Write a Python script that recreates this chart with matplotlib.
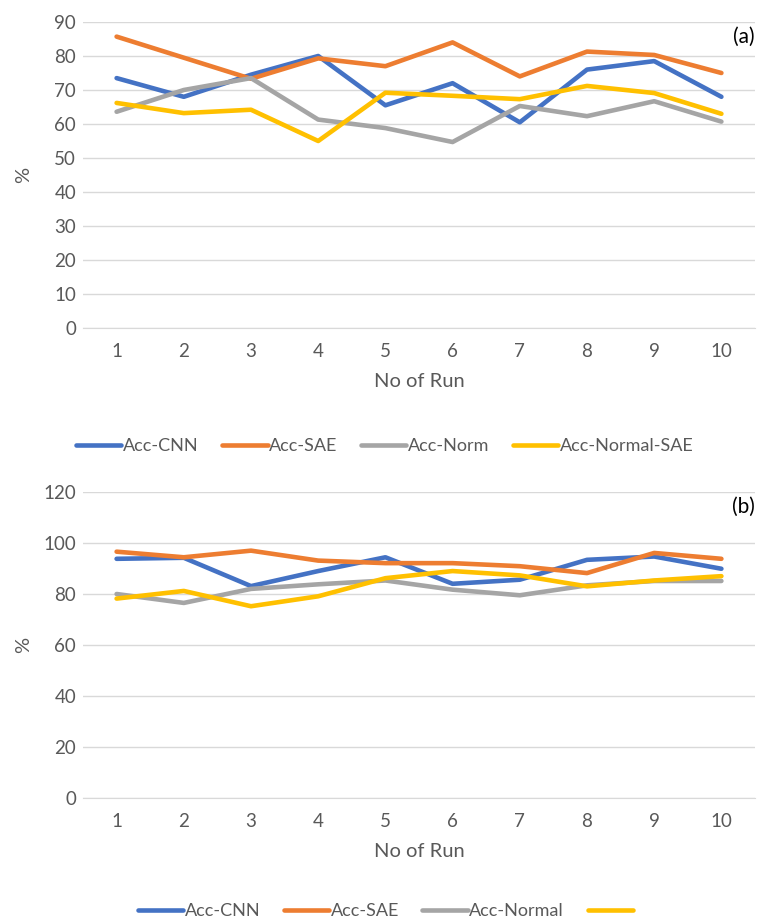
import matplotlib
matplotlib.use("Agg")
import matplotlib.pyplot as plt
from matplotlib.lines import Line2D

runs = [1, 2, 3, 4, 5, 6, 7, 8, 9, 10]

# Chart (a)
a_cnn = [73.5, 68, 74.5, 80, 65.5, 72, 60.5, 76, 78.5, 68]
a_sae = [85.7, 79.5, 73.3, 79.3, 77, 84, 74, 81.3, 80.3, 75]
a_norm = [63.6, 70, 73.5, 61.3, 58.8, 54.7, 65.3, 62.3, 66.7, 60.7]
a_norm_sae = [66.2, 63.2, 64.2, 55, 69.2, 68.3, 67.3, 71.2, 69.1, 63]
a_labels = ["Acc-CNN", "Acc-SAE", "Acc-Norm", "Acc-Normal-SAE"]

# Chart (b)
b_cnn = [93.8, 94.2, 83.1, 89, 94.4, 84, 85.6, 93.4, 94.7, 89.9]
b_sae = [96.6, 94.4, 97, 93.1, 92.1, 92.1, 90.9, 88.2, 96.1, 93.8]
b_norm = [80, 76.5, 82, 83.8, 85.3, 81.7, 79.5, 83.4, 85.1, 85.1]
b_norm_sae = [78.2, 81.2, 75.2, 79.1, 86.2, 89, 87.3, 83, 85.3, 87]
b_labels = ["Acc-CNN", "Acc-SAE", "Acc-Normal", ""]

colors = ["#4472C4", "#ED7D31", "#A5A5A5", "#FFC000"]
txt = "#595959"
plt.rcParams['font.family'] = ['Lato', 'DejaVu Sans']

fig = plt.figure(figsize=(7.58, 9.23), dpi=100)
W, H = 758, 923

def make_ax(top_px, bot_px, series, ymax, ystep, tag):
    ax = fig.add_axes([83 / W, 1 - bot_px / H, (755 - 83) / W, (bot_px - top_px) / H])
    for s, c in zip(series, colors):
        ax.plot(runs, s, color=c, lw=3.3, solid_capstyle='round', solid_joinstyle='round')
    ax.set_xlim(0.5, 10.5)
    ax.set_ylim(0, ymax)
    ax.set_yticks(range(0, ymax + 1, ystep))
    ax.set_xticks(runs)
    ax.grid(axis='y', color='#D9D9D9', lw=1)
    ax.set_axisbelow(True)
    for sp in ['top', 'right', 'left']:
        ax.spines[sp].set_visible(False)
    ax.spines['bottom'].set_color('#D9D9D9')
    ax.tick_params(axis='both', length=0, colors=txt, labelsize=13.5)
    ax.tick_params(axis='x', pad=11)
    ax.tick_params(axis='y', pad=5)
    ax.set_xlabel("No of Run", color=txt, fontsize=14.5, labelpad=9)
    ax.set_ylabel("%", color=txt, fontsize=14.5)
    ax.yaxis.set_label_coords((32 - 83) / 672, 0.5)
    ax.text(1.0, 0.985, tag, transform=ax.transAxes, ha='right', va='top', fontsize=15, color='black')
    return ax

make_ax(22, 328, [a_cnn, a_sae, a_norm, a_norm_sae], 90, 10, "(a)")
make_ax(492, 798, [b_cnn, b_sae, b_norm, b_norm_sae], 120, 20, "(b)")

def add_legend(labels, ycen_px, xcen_px):
    handles = [Line2D([0], [0], color=c, lw=3.3, solid_capstyle='round') for c in colors]
    fig.legend(handles, labels, loc='center', bbox_to_anchor=(xcen_px / W, 1 - ycen_px / H),
               ncol=4, frameon=False, fontsize=13, labelcolor=txt, handlelength=2.5,
               handletextpad=0.1, columnspacing=1.3)

add_legend(a_labels, 446, 385)
add_legend(b_labels, 911, 386)

fig.savefig("out.png", dpi=100)
